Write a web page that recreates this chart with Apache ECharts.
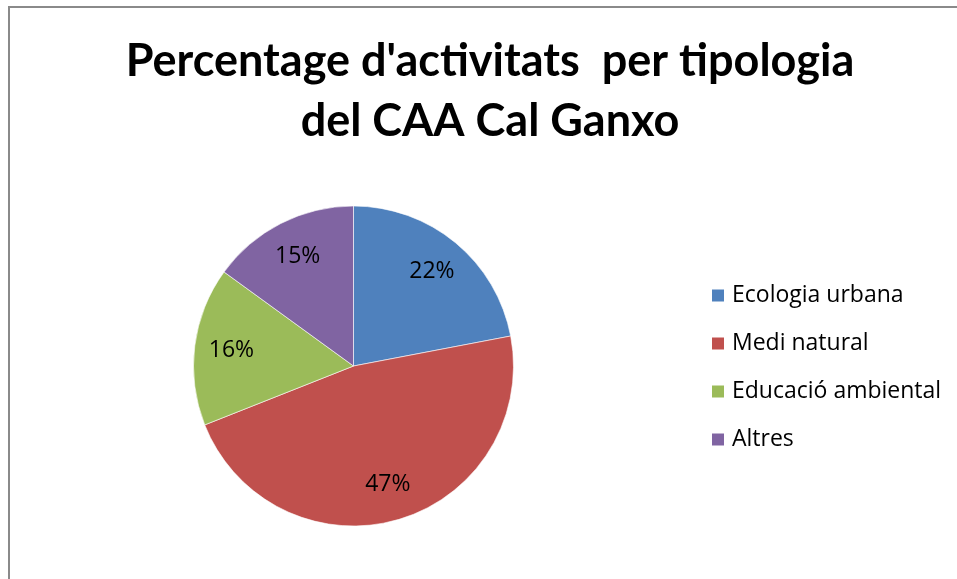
<!DOCTYPE html>
<html>
<head>
<meta charset="utf-8">
<script src="https://cdn.jsdelivr.net/npm/echarts@6/dist/echarts.min.js"></script>
<style>
html,body{margin:0;padding:0;background:#fff;}
#main{width:957px;height:579px;}
</style>
</head>
<body>
<div id="main"></div>
<script>
// dades del grafic
var categories = ['Ecologia urbana', 'Medi natural', 'Educació ambiental', 'Altres'];
var values = [22, 47, 16, 15];
var colors = ['#4F81BD', '#C0504D', '#9BBB59', '#8064A2'];
var titleText = "Percentage d'activitats  per tipologia\ndel CAA Cal Ganxo";

var titleFont = 'Lato';
var font = 'Open Sans';
var pieData = [];
var labelData = [];
for (var i = 0; i < categories.length; i++) {
	pieData.push({ name: categories[i], value: values[i], itemStyle: { color: colors[i] } });
	labelData.push({ name: categories[i], value: values[i] });
}

var myChart = echarts.init(document.getElementById('main'));
var option = {
	backgroundColor: '#fff',
	animation: false,
	title: {
		text: titleText,
		left: 490,
		top: 31,
		padding: 0,
		textAlign: 'center',
		textStyle: { fontFamily: titleFont, fontSize: 45, fontWeight: 'bold', color: '#000', lineHeight: 60 }
	},
	legend: {
		orient: 'vertical',
		left: 710,
		top: 284,
		padding: 0,
		itemWidth: 14,
		itemHeight: 14,
		itemGap: 25,
		icon: 'rect',
		data: categories,
		textStyle: { fontFamily: font, fontSize: 23, color: '#000', padding: [0, 0, 0, 2] }
	},
	graphic: [{
		type: 'rect',
		shape: { x: 9, y: 7, width: 1000, height: 700 },
		style: { fill: 'none', stroke: '#8a8a8a', lineWidth: 2 },
		silent: true
	}],
	series: [
		{
			type: 'pie',
			center: [353.5, 366],
			radius: [0, 160],
			startAngle: 90,
			clockwise: true,
			label: { show: false },
			labelLine: { show: false },
			itemStyle: { borderColor: '#ffffff', borderWidth: 0.6 },
			emphasis: { disabled: true },
			data: pieData
		},
		{
			// serie nomes per a les etiquetes (a 3/4 del radi)
			type: 'pie',
			center: [353.5, 366],
			radius: [80, 160],
			startAngle: 90,
			clockwise: true,
			silent: true,
			legendHoverLink: false,
			itemStyle: { color: 'rgba(0,0,0,0)' },
			label: {
				show: true,
				position: 'inside',
				formatter: '{c}%',
				fontFamily: font,
				fontSize: 23,
				color: '#000'
			},
			labelLine: { show: false },
			emphasis: { disabled: true },
			data: labelData
		}
	]
};
myChart.setOption(option);
</script>
</body>
</html>
